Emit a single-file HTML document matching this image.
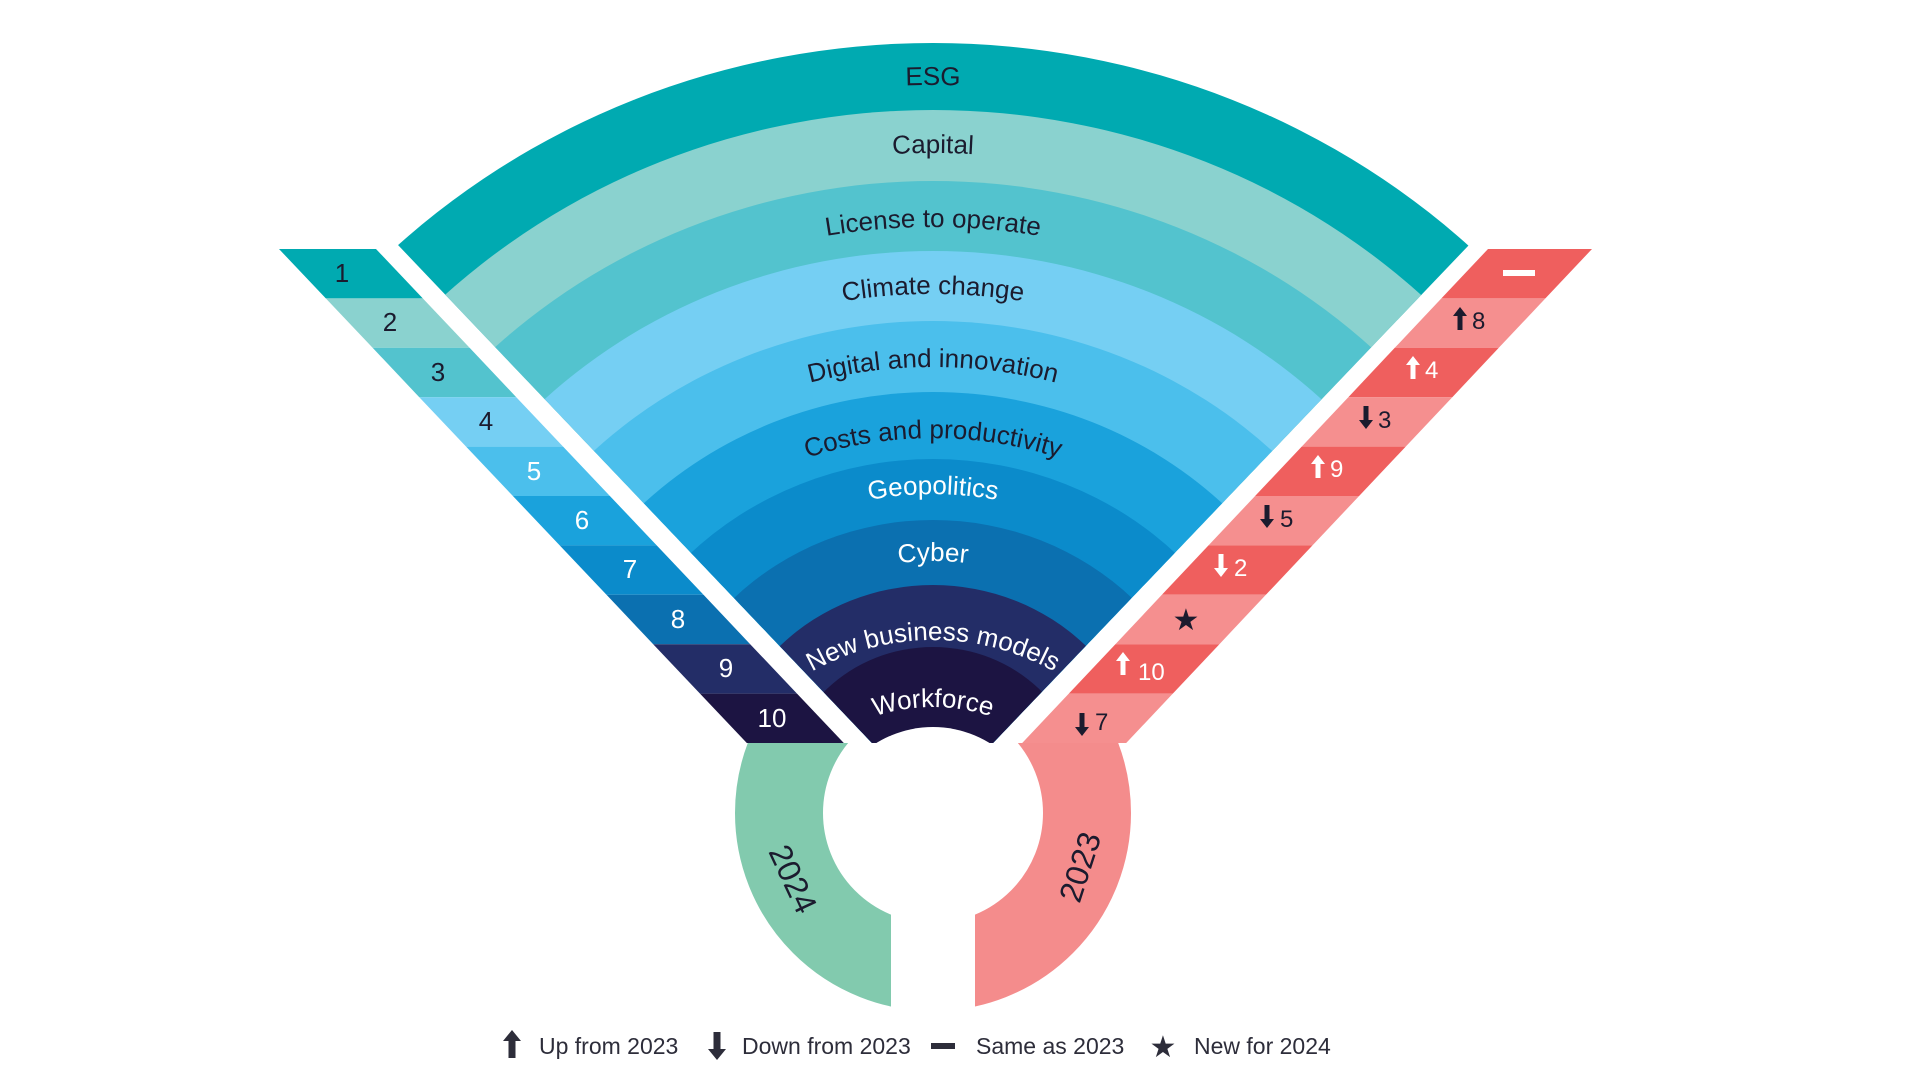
<!DOCTYPE html>
<html><head><meta charset="utf-8"><style>
html,body{margin:0;padding:0;background:#fff;width:1920px;height:1080px;overflow:hidden;}
svg{display:block;font-family:"Liberation Sans",sans-serif;}
</style></head><body>
<svg width="1920" height="1080" viewBox="0 0 1920 1080" xmlns="http://www.w3.org/2000/svg">
<defs>
<clipPath id="fan"><polygon points="398,245 872,743 993,743 1469,245 1469,0 398,0"/></clipPath>
<clipPath id="cl"><rect x="0" y="743" width="891" height="337"/></clipPath>
<clipPath id="cr"><rect x="975" y="743" width="945" height="337"/></clipPath>
<path id="a0" d="M 169,820 A 764 735 0 0 1 1697,820"/>
<path id="a1" d="M 239,820 A 694 667 0 0 1 1627,820"/>
<path id="a2" d="M 316,820 A 617 593 0 0 1 1550,820"/>
<path id="a3" d="M 386,820 A 547 526 0 0 1 1480,820"/>
<path id="a4" d="M 462,820 A 471 453 0 0 1 1404,820"/>
<path id="a5" d="M 536,820 A 397 382 0 0 1 1330,820"/>
<path id="a6" d="M 594,820 A 339 326 0 0 1 1272,820"/>
<path id="a7" d="M 664,820 A 269 259 0 0 1 1202,820"/>
<path id="a8" d="M 694,870 A 239 230 0 0 1 1172,870"/>
<path id="a9" d="M 756,877 A 177 170 0 0 1 1110,877"/>
</defs>

<g clip-path="url(#fan)">
<ellipse cx="933" cy="790" rx="782" ry="747" fill="#00aab1"/>
<ellipse cx="933" cy="790" rx="712" ry="680" fill="#8ad2cf"/>
<ellipse cx="933" cy="790" rx="638" ry="609" fill="#53c3ce"/>
<ellipse cx="933" cy="790" rx="564" ry="539" fill="#75cff3"/>
<ellipse cx="933" cy="790" rx="491" ry="469" fill="#4bbfec"/>
<ellipse cx="933" cy="790" rx="417" ry="398" fill="#1aa2dc"/>
<ellipse cx="933" cy="790" rx="347" ry="331" fill="#0b8bcb"/>
<ellipse cx="933" cy="790" rx="283" ry="270" fill="#0b70b0"/>
<ellipse cx="933" cy="790" rx="215" ry="205" fill="#232d67"/>
<ellipse cx="933" cy="790" rx="150" ry="143" fill="#1c1442"/>
</g>
<circle cx="933" cy="835" r="108" fill="#fff"/>

<g font-size="26" text-anchor="middle">
<text fill="#1b1b2e"><textPath href="#a0" startOffset="50%">ESG</textPath></text>
<text fill="#1b1b2e"><textPath href="#a1" startOffset="50%">Capital</textPath></text>
<text fill="#1b1b2e"><textPath href="#a2" startOffset="50%">License to operate</textPath></text>
<text fill="#1b1b2e"><textPath href="#a3" startOffset="50%">Climate change</textPath></text>
<text fill="#1b1b2e"><textPath href="#a4" startOffset="50%">Digital and innovation</textPath></text>
<text fill="#1b1b2e"><textPath href="#a5" startOffset="50%">Costs and productivity</textPath></text>
<text fill="#fff"><textPath href="#a6" startOffset="50%">Geopolitics</textPath></text>
<text fill="#fff"><textPath href="#a7" startOffset="50%">Cyber</textPath></text>
<text fill="#fff"><textPath href="#a8" startOffset="50%">New business models</textPath></text>
<text fill="#fff"><textPath href="#a9" startOffset="50%">Workforce</textPath></text>
</g>

<!-- left strip -->
<polygon points="279,249 376,249 422.8,298.4 325.8,298.4" fill="#00aab1"/>
<polygon points="325.8,298.4 422.8,298.4 469.6,347.8 372.6,347.8" fill="#8ad2cf"/>
<polygon points="372.6,347.8 469.6,347.8 516.3,397.2 419.3,397.2" fill="#53c3ce"/>
<polygon points="419.3,397.2 516.3,397.2 563.1,446.6 466.1,446.6" fill="#75cff3"/>
<polygon points="466.1,446.6 563.1,446.6 609.9,496 512.9,496" fill="#4bbfec"/>
<polygon points="512.9,496 609.9,496 656.7,545.4 559.7,545.4" fill="#1aa2dc"/>
<polygon points="559.7,545.4 656.7,545.4 703.5,594.8 606.5,594.8" fill="#0b8bcb"/>
<polygon points="606.5,594.8 703.5,594.8 750.2,644.2 653.2,644.2" fill="#0b70b0"/>
<polygon points="653.2,644.2 750.2,644.2 797,693.6 700,693.6" fill="#232d67"/>
<polygon points="700,693.6 797,693.6 843.8,743 746.8,743" fill="#1c1442"/>
<g font-size="26" text-anchor="middle">
<text x="342" y="282" fill="#1b1b2e">1</text>
<text x="390" y="331" fill="#1b1b2e">2</text>
<text x="438" y="381" fill="#1b1b2e">3</text>
<text x="486" y="430" fill="#1b1b2e">4</text>
<text x="534" y="480" fill="#fff">5</text>
<text x="582" y="529" fill="#fff">6</text>
<text x="630" y="578" fill="#fff">7</text>
<text x="678" y="628" fill="#fff">8</text>
<text x="726" y="677" fill="#fff">9</text>
<text x="772" y="727" fill="#fff">10</text>
</g>

<!-- right strip -->
<polygon points="1488,249 1592,249 1545.4,298.4 1441.4,298.4" fill="#ef5f5e"/>
<polygon points="1441.4,298.4 1545.4,298.4 1498.8,347.8 1394.8,347.8" fill="#f58f8f"/>
<polygon points="1394.8,347.8 1498.8,347.8 1452.3,397.2 1348.3,397.2" fill="#ef5f5e"/>
<polygon points="1348.3,397.2 1452.3,397.2 1405.7,446.6 1301.7,446.6" fill="#f58f8f"/>
<polygon points="1301.7,446.6 1405.7,446.6 1359.1,496 1255.1,496" fill="#ef5f5e"/>
<polygon points="1255.1,496 1359.1,496 1312.5,545.4 1208.5,545.4" fill="#f58f8f"/>
<polygon points="1208.5,545.4 1312.5,545.4 1265.9,594.8 1161.9,594.8" fill="#ef5f5e"/>
<polygon points="1161.9,594.8 1265.9,594.8 1219.4,644.2 1115.4,644.2" fill="#f58f8f"/>
<polygon points="1115.4,644.2 1219.4,644.2 1172.8,693.6 1068.8,693.6" fill="#ef5f5e"/>
<polygon points="1068.8,693.6 1172.8,693.6 1126.2,743 1022.2,743" fill="#f58f8f"/>

<!-- ring -->
<circle cx="933" cy="813" r="154" fill="none" stroke="#82caae" stroke-width="88" clip-path="url(#cl)"/>
<circle cx="933" cy="813" r="154" fill="none" stroke="#f48c8c" stroke-width="88" clip-path="url(#cr)"/>
<text x="793" y="890" font-size="32" fill="#1b1b2e" text-anchor="middle" transform="rotate(65 793 879)">2024</text>
<text x="1080" y="878" font-size="32" fill="#1b1b2e" text-anchor="middle" transform="rotate(-72 1080 867)">2023</text>

<!-- right strip markers -->
<rect x="1503" y="270" width="32" height="6" fill="#fff"/>
<g font-size="24">
<path d="M1460,307 l7,9 h-4.5 v14 h-5 v-14 h-4.5 z" fill="#1b1b2e"/><text x="1472" y="329" fill="#1b1b2e">8</text>
<path d="M1413,356 l7,9 h-4.5 v14 h-5 v-14 h-4.5 z" fill="#fff"/><text x="1425" y="378" fill="#fff">4</text>
<path d="M1366,429 l7,-9 h-4.5 v-14 h-5 v14 h-4.5 z" fill="#1b1b2e"/><text x="1378" y="428" fill="#1b1b2e">3</text>
<path d="M1318,455 l7,9 h-4.5 v14 h-5 v-14 h-4.5 z" fill="#fff"/><text x="1330" y="477" fill="#fff">9</text>
<path d="M1267,528 l7,-9 h-4.5 v-14 h-5 v14 h-4.5 z" fill="#1b1b2e"/><text x="1280" y="527" fill="#1b1b2e">5</text>
<path d="M1221,577 l7,-9 h-4.5 v-14 h-5 v14 h-4.5 z" fill="#fff"/><text x="1234" y="576" fill="#fff">2</text>
<text x="1186" y="630" font-size="30" fill="#1b1b2e" text-anchor="middle">★</text>
<path d="M1123,652 l7,9 h-4.5 v14 h-5 v-14 h-4.5 z" fill="#fff"/><text x="1138" y="680" fill="#fff">10</text>
<path d="M1082,736 l7,-9 h-4.5 v-14 h-5 v14 h-4.5 z" fill="#1b1b2e"/><text x="1095" y="730" fill="#1b1b2e">7</text>
</g>

<!-- legend -->
<g font-size="23" fill="#2d2d3a">
<path d="M512,1030 l9,11 h-5.5 v17 h-7 v-17 h-5.5 z"/><text x="539" y="1054">Up from 2023</text>
<path d="M717,1060 l9,-11 h-5.5 v-17 h-7 v17 h-5.5 z"/><text x="742" y="1054">Down from 2023</text>
<rect x="931" y="1043" width="24" height="6"/><text x="976" y="1054">Same as 2023</text>
<text x="1163" y="1057" font-size="30" text-anchor="middle">★</text><text x="1194" y="1054">New for 2024</text>
</g>
</svg>
</body></html>
